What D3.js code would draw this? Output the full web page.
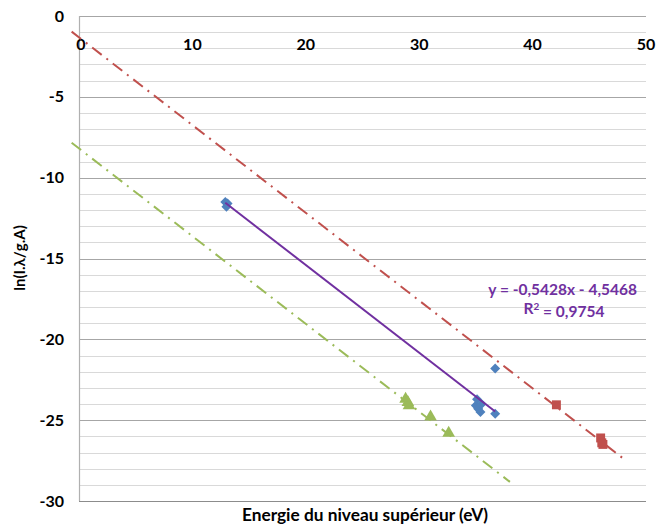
<!DOCTYPE html>
<html><head><meta charset="utf-8">
<script src="https://cdn.jsdelivr.net/npm/d3@7"></script>
<style>body{margin:0;background:#fff}svg{display:block}</style>
</head><body><svg id="c" width="656" height="525"></svg>
<script>
// Data
const blueX = [12.9, 13.0, 13.1, 35.0, 35.1, 35.2, 35.4, 35.5, 36.7, 36.7];
const blueY = [-11.5, -11.8, -11.6, -24.1, -23.7, -24.3, -24.5, -24.0, -24.6, -21.8];
const redX = [42.1, 46.0, 46.1, 46.2];
const redY = [-24.05, -26.1, -26.4, -26.5];
const greenX = [28.8, 29.0, 29.1, 31.0, 32.6];
const greenY = [-23.7, -23.9, -24.1, -24.8, -25.8];
const trendCoef = [-0.5428, -4.5468];           // slope, intercept
const redLineCoef = [-0.5428, -1.32];
const redLineRange = [-0.65, 48];
const greenLineCoef = [-0.5428, -8.19];
const greenLineRange = [-0.65, 38];
const xTicks = [0, 10, 20, 30, 40, 50];
const yTicks = [0, -5, -10, -15, -20, -25, -30];
const eqText = "y = -0,5428x - 4,5468";
const r2Text = "0,9754";

const svg = d3.select("#c");
const font = "Lato, 'Open Sans', sans-serif";
const x = d3.scaleLinear().domain([0, 50]).range([79, 646]);
const y = d3.scaleLinear().domain([0, -30]).range([16, 501]);

// gridlines
const minor = d3.range(0, -31, -1);
svg.append("g").selectAll("line").data(minor).join("line")
  .attr("x1", x(0)).attr("x2", x(50))
  .attr("y1", d => Math.round(y(d)) + 0.5).attr("y2", d => Math.round(y(d)) + 0.5)
  .attr("stroke", d => d % 5 === 0 ? "#a6a6a6" : "#d9d9d9")
  .attr("stroke-width", 1.2);
// axis lines
svg.append("line").attr("x1", x(0) + 0.5).attr("x2", x(0) + 0.5)
  .attr("y1", y(0)).attr("y2", y(-30)).attr("stroke", "#b0b0b0").attr("stroke-width", 1.2);
svg.append("line").attr("x1", x(0)).attr("x2", x(50))
  .attr("y1", Math.round(y(-30)) + 0.5).attr("y2", Math.round(y(-30)) + 0.5)
  .attr("stroke", "#8c8c8c").attr("stroke-width", 1.2);

// axis tick labels
svg.append("g").selectAll("text").data(yTicks).join("text")
  .attr("x", 64).attr("y", d => y(d)).attr("dy", "0.35em")
  .attr("text-anchor", "end").attr("font-family", font).attr("font-weight", "bold")
  .attr("font-size", 16).attr("fill", "#000").text(d => d);
svg.append("g").selectAll("text").data(xTicks).join("text")
  .attr("x", d => x(d) + (d === 0 ? 2 : 0)).attr("y", 44).attr("dy", "0.35em")
  .attr("text-anchor", "middle").attr("font-family", font).attr("font-weight", "bold")
  .attr("font-size", 16).attr("fill", "#000").text(d => d);

// axis titles
svg.append("text").attr("x", 365).attr("y", 515).attr("dy", "0.35em")
  .attr("text-anchor", "middle").attr("font-family", font).attr("font-weight", "bold")
  .attr("font-size", 17.3).text("Energie du niveau supérieur (eV)");
svg.append("text").attr("transform", "translate(20,258) rotate(-90)").attr("dy", "0.35em")
  .attr("text-anchor", "middle").attr("font-family", font).attr("font-weight", "bold")
  .attr("font-size", 15).text("ln(I.λ/g.A)");

// dash-dot guide lines
function guide(coef, range, color) {
  svg.append("line")
    .attr("x1", x(range[0])).attr("y1", y(coef[0] * range[0] + coef[1]))
    .attr("x2", x(range[1])).attr("y2", y(coef[0] * range[1] + coef[1]))
    .attr("stroke", color).attr("stroke-width", 2)
    .attr("stroke-dasharray", "12,6,2,6");
}
guide(redLineCoef, redLineRange, "#c0504d");
guide(greenLineCoef, greenLineRange, "#9bbb59");

// markers
svg.append("g").selectAll("path").data(d3.zip(greenX, greenY)).join("path")
  .attr("transform", d => `translate(${x(d[0])},${y(d[1])})`)
  .attr("d", d3.symbol().type(d3.symbolTriangle).size(70)()).attr("fill", "#9bbb59");
svg.append("g").selectAll("path").data(d3.zip(redX, redY)).join("path")
  .attr("transform", d => `translate(${x(d[0])},${y(d[1])})`)
  .attr("d", d3.symbol().type(d3.symbolSquare).size(80)()).attr("fill", "#c0504d");
svg.append("g").selectAll("path").data(d3.zip(blueX, blueY)).join("path")
  .attr("transform", d => `translate(${x(d[0])},${y(d[1])}) rotate(45)`)
  .attr("d", d3.symbol().type(d3.symbolSquare).size(50)()).attr("fill", "#4f81bd");

// trendline
const tx = d3.extent(blueX);
svg.append("line")
  .attr("x1", x(tx[0])).attr("y1", y(trendCoef[0] * tx[0] + trendCoef[1]))
  .attr("x2", x(tx[1])).attr("y2", y(trendCoef[0] * tx[1] + trendCoef[1]))
  .attr("stroke", "#7030a0").attr("stroke-width", 2);

// equation
svg.append("text").attr("x", 637).attr("y", 290).attr("dy", "0.35em")
  .attr("text-anchor", "end").attr("font-family", font).attr("font-weight", "bold")
  .attr("font-size", 15.5).attr("fill", "#7030a0").text(eqText);
const r2 = svg.append("text").attr("x", 564).attr("y", 309).attr("dy", "0.35em")
  .attr("text-anchor", "middle").attr("font-family", font).attr("font-weight", "bold")
  .attr("font-size", 15.5).attr("fill", "#7030a0");
r2.append("tspan").text("R");
r2.append("tspan").attr("dy", "-0.4em").attr("font-size", 10).text("2");
r2.append("tspan").attr("dy", "0.4em").text(" = " + r2Text);
</script></body></html>
